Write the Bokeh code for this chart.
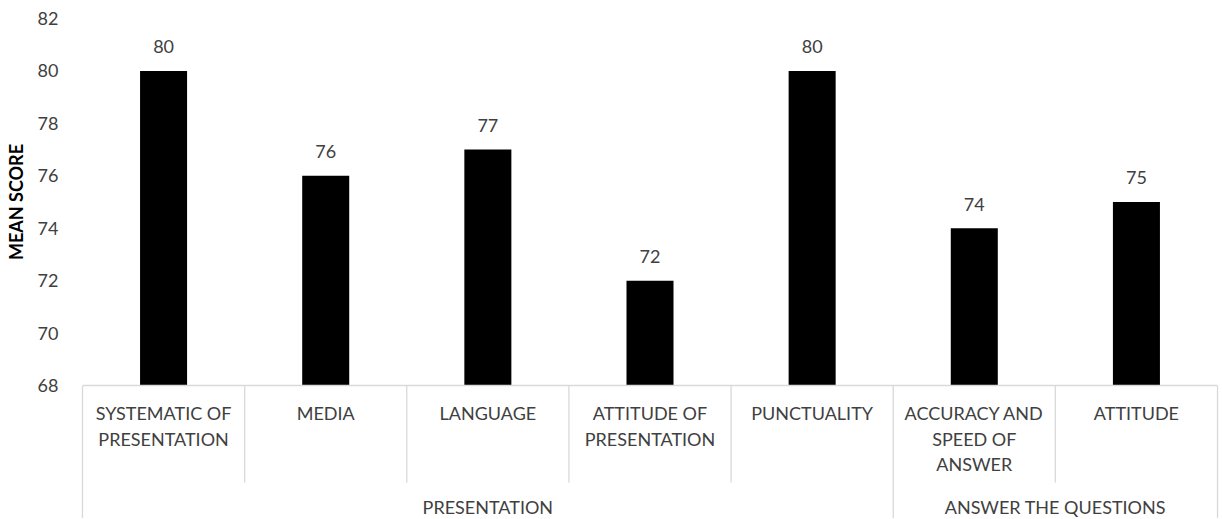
import math
from bokeh.plotting import figure
from bokeh.layouts import row
from bokeh.models import Range1d, FixedTicker, ColumnDataSource
from bokeh.core.properties import value
from bokeh.embed import file_html
from bokeh.resources import INLINE

categories = ["SYSTEMATIC OF\nPRESENTATION", "MEDIA", "LANGUAGE", "ATTITUDE OF\nPRESENTATION",
              "PUNCTUALITY", "ACCURACY AND\nSPEED OF\nANSWER", "ATTITUDE"]
scores = [80, 76, 77, 72, 80, 74, 75]
groups = ["PRESENTATION", "ANSWER THE QUESTIONS"]
group_sizes = [5, 2]
y_ticks = [68, 70, 72, 74, 76, 78, 80, 82]
y_title = "MEAN SCORE"

FONT = "Lato"
TXT = "#404040"
SEP = "#d9d9d9"
base = y_ticks[0]
top_val = y_ticks[-1]

n = len(categories)
xs = list(range(n))
yr = Range1d(62.926, top_val)

# ---- axis title strip ----
t = figure(width=34, height=518, output_backend="svg", toolbar_location=None,
           x_range=Range1d(0, 1), y_range=yr,
           min_border_left=0, min_border_right=0, min_border_top=18, min_border_bottom=0,
           x_axis_location=None, y_axis_location=None)
t.outline_line_color = None
t.grid.visible = False
t.text(x=[0.45], y=[(base + top_val) / 2], text=[y_title], angle=math.pi / 2, text_align="center",
       text_baseline="middle", text_font=value(FONT), text_font_style="bold",
       text_font_size="18px", text_color="black")

# ---- main chart ----
p = figure(width=1185, height=518, output_backend="svg", toolbar_location=None,
           x_range=Range1d(-0.5123, n - 0.5 + 0.0123), y_range=yr,
           min_border_left=44, min_border_right=0, min_border_top=18, min_border_bottom=0,
           x_axis_location=None)
p.outline_line_color = None
p.grid.visible = False

ax = p.yaxis[0]
ax.ticker = FixedTicker(ticks=y_ticks)
ax.axis_line_color = None
ax.major_tick_line_color = None
ax.minor_tick_line_color = None
ax.major_tick_out = 0
ax.major_tick_in = 0
ax.major_label_standoff = 22
ax.major_label_text_font = FONT
ax.major_label_text_font_size = "18px"
ax.major_label_text_color = TXT

src = ColumnDataSource(dict(x=xs, top=scores, lab=[str(s) for s in scores]))
p.vbar(x="x", top="top", bottom=base, width=0.29, source=src, fill_color="black", line_color=None)
p.text(x="x", y="top", text="lab", source=src, y_offset=-24, text_align="center",
       text_baseline="middle", text_font=value(FONT), text_font_size="18px", text_color=TXT)

# separators
p.segment(x0=[-0.5], y0=[base], x1=[n - 0.5], y1=[base], line_color=SEP, line_width=1.3)
inner = []
outer = [-0.5]
acc = 0
for gs in group_sizes:
    for k in range(1, gs):
        inner.append(acc + k - 0.5)
    acc += gs
    outer.append(acc - 0.5)
p.segment(x0=inner, y0=[base] * len(inner), x1=inner, y1=[64.30] * len(inner), line_color=SEP, line_width=1.3)
p.segment(x0=outer, y0=[base] * len(outer), x1=outer, y1=[62.0] * len(outer), line_color=SEP, line_width=1.3)

# category labels
offsets = [28, 54, 79]
for r in range(3):
    rx, rt = [], []
    for i, c in enumerate(categories):
        parts = c.split("\n")
        if r < len(parts):
            rx.append(i)
            rt.append(parts[r])
    p.text(x=rx, y=[base] * len(rx), text=rt, y_offset=offsets[r], text_align="center",
           text_baseline="middle", text_font=value(FONT), text_font_size="18px", text_color=TXT)

gx = []
acc = 0
for gs in group_sizes:
    gx.append(acc + (gs - 1) / 2)
    acc += gs
p.text(x=gx, y=[base] * len(gx), text=groups, y_offset=122, text_align="center",
       text_baseline="middle", text_font=value(FONT), text_font_size="18px", text_color=TXT)

layout = row(t, p, spacing=0)
open("out.html", "w").write(file_html(layout, INLINE))
